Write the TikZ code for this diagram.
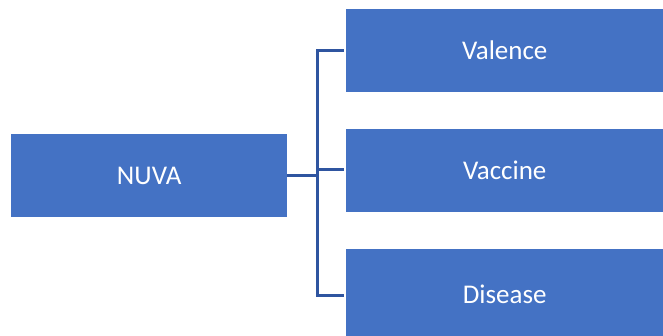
\documentclass[tikz,border=0pt]{standalone}
\usepackage{fontspec}
\setmainfont{Carlito}
\definecolor{boxblue}{HTML}{4472C4}
\definecolor{linkblue}{HTML}{2F55A0}
\begin{document}
\begin{tikzpicture}[x=1pt,y=-1pt,
  box/.style={fill=boxblue,draw=none,inner sep=0pt,text=white,
    font=\fontsize{27}{30}\selectfont,anchor=north west},
  link/.style={draw=linkblue,line width=3pt}]
\useasboundingbox[fill=white] (0,0) rectangle (663,336);
\node[box,minimum width=276pt,minimum height=83pt] (nuva) at (11,134) {NUVA};
\node[box,minimum width=317pt,minimum height=83pt] (val) at (346,9) {Valence};
\node[box,minimum width=317pt,minimum height=83pt] (vac) at (346,129) {Vaccine};
\node[box,minimum width=317pt,minimum height=91pt] (dis) at (346,249) {Disease};
\coordinate (jn) at ([xshift=30pt]nuva.east);
\draw[link] (nuva.east) -- (jn);
\draw[link] ([xshift=-2pt]val.west) -| (jn |- 0,295) -- ([xshift=-2pt]dis.west |- 0,295);
\draw[link] (jn |- 0,170) -- ([xshift=-2pt]vac.west |- 0,170);
\end{tikzpicture}
\end{document}
